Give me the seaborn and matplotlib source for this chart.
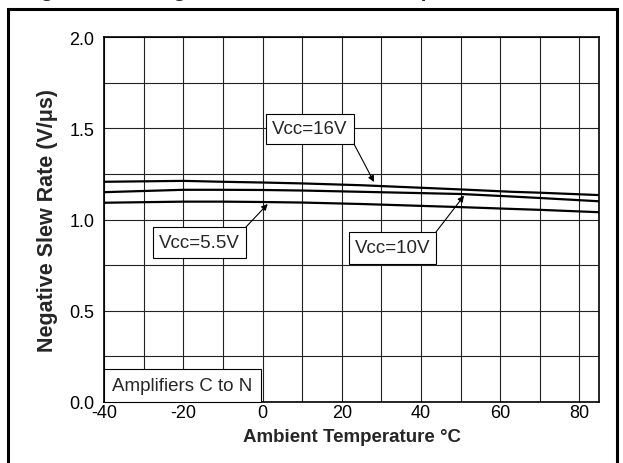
import numpy as np
import pandas as pd
import matplotlib
matplotlib.use("Agg")
import matplotlib.pyplot as plt
import matplotlib.patches as patches
import seaborn as sns

# ---- data ----
temps = [-40, -20, -10, 0, 10, 25, 50, 63, 70, 85]
vcc_16 = [1.207, 1.212, 1.207, 1.203, 1.198, 1.188, 1.165, 1.152, 1.147, 1.134]
vcc_10 = [1.150, 1.163, 1.163, 1.162, 1.159, 1.152, 1.140, 1.126, 1.118, 1.100]
vcc_55 = [1.092, 1.098, 1.098, 1.096, 1.093, 1.085, 1.068, 1.058, 1.053, 1.040]
series_names = ["Vcc=16V", "Vcc=10V", "Vcc=5.5V"]
x_ticks = [-40, -20, 0, 20, 40, 60, 80]
y_ticks = [0.0, 0.5, 1.0, 1.5, 2.0]

df = pd.DataFrame({
    "T": temps * 3,
    "SR": vcc_16 + vcc_10 + vcc_55,
    "Vcc": [series_names[0]] * len(temps) + [series_names[1]] * len(temps) + [series_names[2]] * len(temps),
})

sns.set_style("white")
plt.rcParams["font.family"] = ["Liberation Sans", "DejaVu Sans"]

W, H = 623, 464
fig = plt.figure(figsize=(W / 100, H / 100), dpi=100)
ax = fig.add_axes([104.2 / W, (H - 402.7) / H, (599.3 - 104.2) / W, (402.7 - 38.3) / H])

sns.lineplot(data=df, x="T", y="SR", hue="Vcc", palette=["black"] * 3,
             linewidth=1.6, legend=False, ax=ax, sort=True)

ax.set_xlim(-40, 85)
ax.set_ylim(0, 2.0)
ax.set_xticks(x_ticks)
ax.set_xticklabels([str(t) for t in x_ticks])
ax.set_yticks(y_ticks)
ax.set_yticklabels([f"{v:.1f}" for v in y_ticks])
ax.set_xticks(np.arange(-30, 85, 10), minor=True)
ax.set_yticks(np.arange(0.25, 2.0, 0.25), minor=True)
ax.grid(True, which="both", color="#222222", linewidth=0.8)
ax.set_axisbelow(True)
ax.tick_params(axis="both", which="both", direction="in", length=3, width=1, colors="black",
               labelsize=13)
ax.tick_params(axis="y", pad=7)
ax.tick_params(axis="x", pad=2)
for s in ax.spines.values():
    s.set_color("black")
    s.set_linewidth(1.2)

ax.set_xlabel("Ambient Temperature °C", fontsize=13.5, fontweight="bold", labelpad=5)
ax.set_ylabel("Negative Slew Rate (V/μs)", fontsize=15.5, fontweight="bold", labelpad=8)

def px2d(x, y):
    return (-40 + (x - 104.2) / 3.9608, (402.7 - y) / 182.2)

def box(x0, y0, x1, y1, text, fs=13.5):
    (dx0, dy1) = px2d(x0, y1)
    (dx1, dy0) = px2d(x1, y0)
    r = patches.Rectangle((dx0, dy1), dx1 - dx0, dy0 - dy1, facecolor="white",
                          edgecolor="black", linewidth=0.8, zorder=5, clip_on=False)
    ax.add_patch(r)
    ax.text((dx0 + dx1) / 2, (dy0 + dy1) / 2, text, ha="center", va="center",
            fontsize=fs, zorder=6)

def arrow(xs, ys, xt, yt):
    ax.annotate("", xy=px2d(xt, yt), xytext=px2d(xs, ys),
                arrowprops=dict(arrowstyle="-|>", color="black", lw=0.8,
                                mutation_scale=9, shrinkA=0, shrinkB=0), zorder=6)

box(265.7, 115, 354, 145, series_names[0])
arrow(354, 145, 374, 183)
box(153, 228, 246, 259, series_names[2])
arrow(246, 228, 267.7, 205)
box(349, 233, 436, 265, series_names[1])
arrow(436, 233, 464, 196.7)
box(103.5, 370, 261, 402.7, "Amplifiers C to N")

# outer frame
fig.add_artist(patches.Rectangle((7.5 / W, -0.01), (617 - 7.5) / W, (H - 10 + 4.6) / H,
                                 transform=fig.transFigure, facecolor="none",
                                 edgecolor="black", linewidth=2.2))
# caption of the page, cut off by the top edge as in the reference
fig.text(22 / W, (H + 3) / H, "Figure 2-16: Negative Slew Rate vs. Temperature",
         fontsize=15, fontweight="bold", ha="left", va="baseline")

fig.savefig("out.png", dpi=100)
